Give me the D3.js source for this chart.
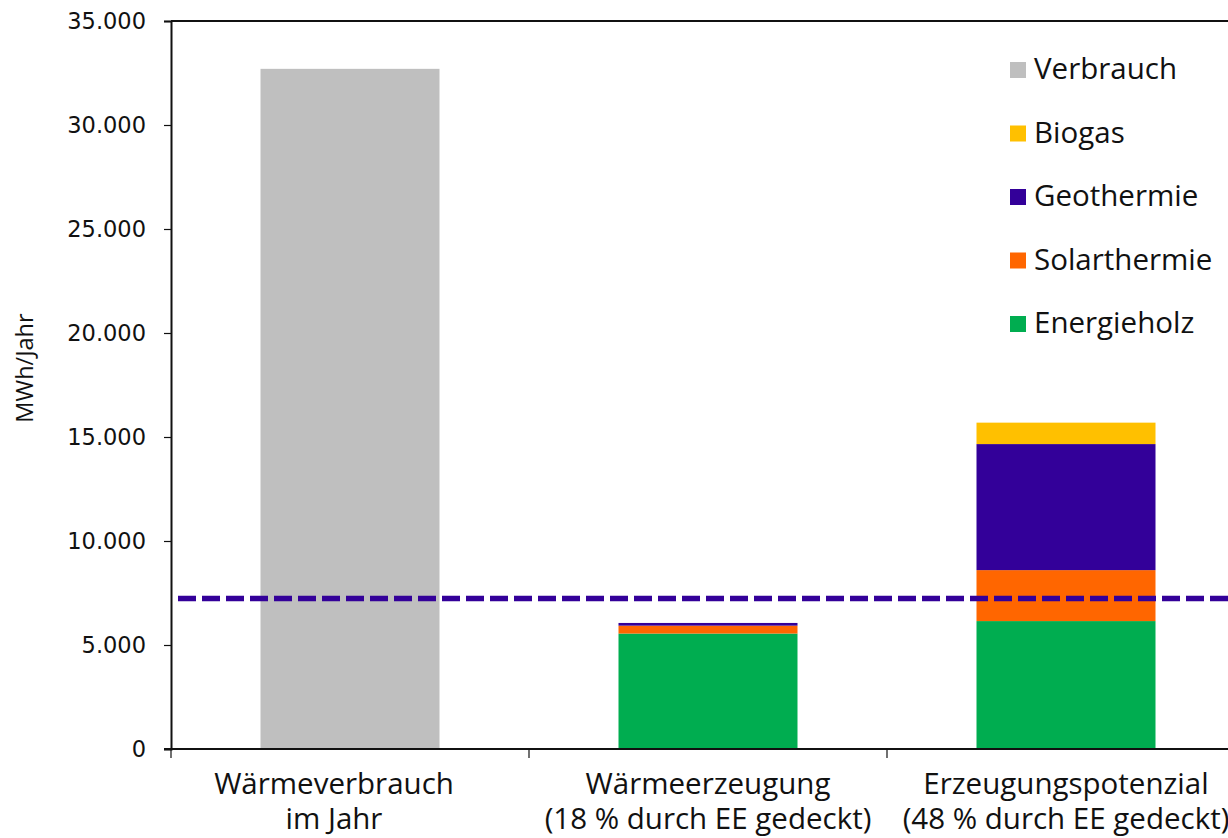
<!DOCTYPE html>
<html>
<head>
<meta charset="utf-8">
<script src="https://cdn.jsdelivr.net/npm/d3@7"></script>
<style>
  html, body { margin: 0; padding: 0; background: #fff; }
  svg { display: block; }
</style>
</head>
<body>
<svg id="chart" width="1228" height="838"></svg>
<script>
// Heat demand vs. renewable heat generation (MWh per year)
const categories = [
  ["Wärmeverbrauch", "im Jahr"],
  ["Wärmeerzeugung", "(18 % durch EE gedeckt)"],
  ["Erzeugungspotenzial", "(48 % durch EE gedeckt)"]
];
const seriesNames = ["Energieholz", "Solarthermie", "Geothermie", "Biogas", "Verbrauch"];
const seriesColors = ["#00AD50", "#FF6600", "#330099", "#FFC000", "#BFBFBF"];
const energieholz  = [0, 5550, 6150];
const solarthermie = [0, 380, 2450];
const geothermie   = [0, 130, 6060];
const biogas       = [0, 0, 1030];
const verbrauch    = [32700, 0, 0];
const referenceLine = 7230;
const yTicks = [0, 5000, 10000, 15000, 20000, 25000, 30000, 35000];
const legendOrder = ["Verbrauch", "Biogas", "Geothermie", "Solarthermie", "Energieholz"];

const svg = d3.select("#chart");
const margin = { left: 171, top: 21 };
const plotW = 1074, plotH = 728;

const x = d3.scaleBand().domain(d3.range(categories.length))
  .range([margin.left, margin.left + plotW]).paddingInner(0.5).paddingOuter(0.25);
const y = d3.scaleLinear().domain([0, 35000]).range([margin.top + plotH, margin.top]);

const rows = categories.map((c, i) => ({
  Energieholz: energieholz[i], Solarthermie: solarthermie[i],
  Geothermie: geothermie[i], Biogas: biogas[i], Verbrauch: verbrauch[i]
}));
const stack = d3.stack().keys(seriesNames)(rows);
const color = d3.scaleOrdinal().domain(seriesNames).range(seriesColors);

// bars
svg.append("g").selectAll("g").data(stack).join("g")
  .attr("fill", d => color(d.key))
  .selectAll("rect").data(d => d.map((v, i) => ({ v, i })).filter(o => o.v[1] > o.v[0]))
  .join("rect")
  .attr("x", o => x(o.i))
  .attr("width", x.bandwidth())
  .attr("y", o => y(o.v[1]))
  .attr("height", o => y(o.v[0]) - y(o.v[1]));

// frame top line
svg.append("line")
  .attr("x1", margin.left).attr("x2", margin.left + plotW)
  .attr("y1", margin.top).attr("y2", margin.top)
  .attr("stroke", "#111").attr("stroke-width", 2);

// y axis
const yAxis = svg.append("g").attr("transform", `translate(${margin.left},0)`)
  .call(d3.axisLeft(y).tickValues(yTicks).tickSize(7).tickPadding(18)
    .tickFormat(d => d3.format(",")(d).replace(/,/g, ".")));
yAxis.select(".domain").attr("stroke", "#111").attr("stroke-width", 2);
yAxis.selectAll(".tick line").attr("stroke", "#111").attr("stroke-width", 1.2);
yAxis.selectAll("text").attr("font-family", "DejaVu Sans").attr("font-size", 22.5).attr("fill", "#111");

// x axis with category boundary ticks
const xAxisG = svg.append("g");
xAxisG.append("line")
  .attr("x1", margin.left - 7).attr("x2", margin.left + plotW)
  .attr("y1", y(0)).attr("y2", y(0))
  .attr("stroke", "#111").attr("stroke-width", 2);
xAxisG.selectAll(".xt").data(d3.range(categories.length + 1)).join("line")
  .attr("x1", i => margin.left + i * plotW / categories.length)
  .attr("x2", i => margin.left + i * plotW / categories.length)
  .attr("y1", y(0)).attr("y2", y(0) + 9)
  .attr("stroke", "#111").attr("stroke-width", 1.2);

// category labels (the first one sits slightly left of its bar centre)
const labelShift = [-16, 0, 0];
const labels = svg.append("g").attr("font-family", "Open Sans").attr("font-size", 29.5)
  .attr("fill", "#111").attr("text-anchor", "middle");
categories.forEach((c, i) => {
  const cx = x(i) + x.bandwidth() / 2 + labelShift[i];
  c.forEach((line, j) => {
    labels.append("text").attr("x", cx).attr("y", 794 + j * 35).text(line);
  });
});

// reference line
svg.append("line")
  .attr("x1", margin.left + 7).attr("x2", margin.left + plotW)
  .attr("y1", y(referenceLine)).attr("y2", y(referenceLine))
  .attr("stroke", "#330099").attr("stroke-width", 5.5)
  .attr("stroke-dasharray", "18,6");

// y axis title
svg.append("text")
  .attr("transform", `translate(33,368) rotate(-90)`)
  .attr("text-anchor", "middle")
  .attr("font-family", "Open Sans").attr("font-size", 23.5).attr("fill", "#111")
  .text("MWh/Jahr");

// legend
const legend = svg.append("g").attr("font-family", "Open Sans").attr("font-size", 29.5).attr("fill", "#111");
legendOrder.forEach((name, i) => {
  const cy = 69 + i * 63.5;
  legend.append("rect").attr("x", 1010).attr("y", cy - 7).attr("width", 16).attr("height", 16)
    .attr("fill", color(name));
  legend.append("text").attr("x", 1034).attr("y", cy + 10).text(name);
});
</script>
</body>
</html>
